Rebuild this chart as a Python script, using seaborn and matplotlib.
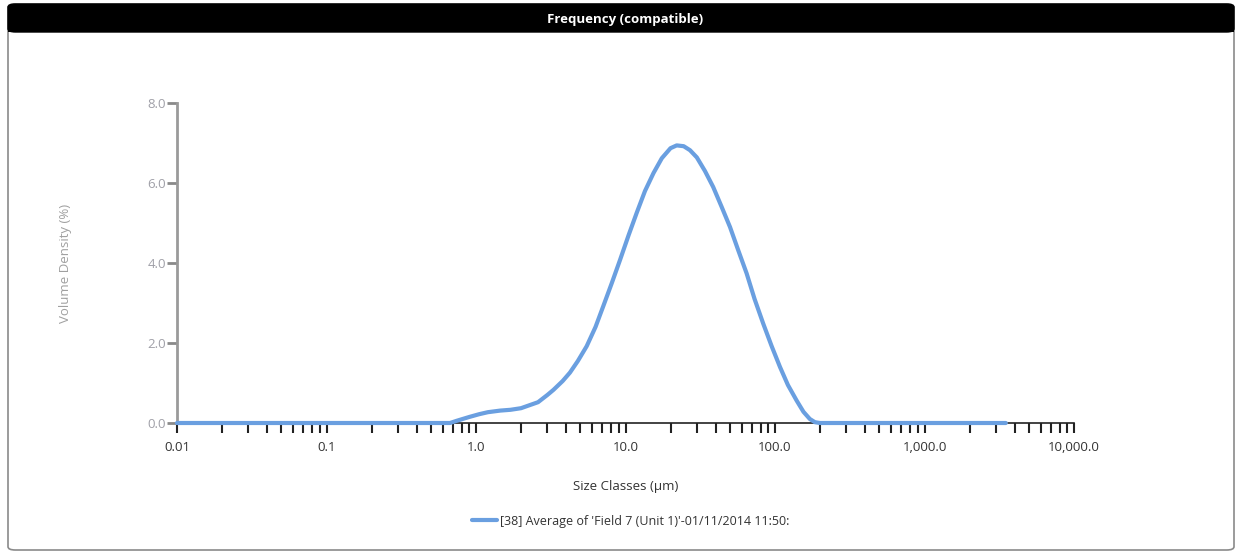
import numpy as np
import pandas as pd
import matplotlib
matplotlib.use("Agg")
import matplotlib.pyplot as plt
from matplotlib.patches import FancyBboxPatch, Rectangle
from matplotlib.ticker import FixedLocator, FixedFormatter, NullFormatter
import seaborn as sns

# ---- data ----
size_um = [0.01, 0.1, 0.67, 0.75, 0.9, 1.05, 1.2, 1.45, 1.7, 2.0, 2.3, 2.6, 3.0,
           3.3, 3.8, 4.25, 4.8, 5.5, 6.3, 7.1, 8.1, 9.2, 10.5, 11.9, 13.5, 15.4,
           17.5, 20.0, 22.0, 24.5, 27.0, 30.0, 34.0, 38.6, 44.0, 50.0, 57.0,
           64.6, 73.0, 83.5, 95.0, 108.0, 122.0, 139.6, 155.0, 171.0, 185.0,
           200.0, 500.0, 1000.0, 3500.0]
volume_density = [0.0, 0.0, 0.0, 0.06, 0.15, 0.22, 0.27, 0.31, 0.33, 0.37, 0.45,
                  0.52, 0.7, 0.83, 1.05, 1.26, 1.55, 1.92, 2.4, 2.92, 3.5, 4.08,
                  4.7, 5.26, 5.8, 6.25, 6.62, 6.87, 6.94, 6.92, 6.82, 6.64, 6.3,
                  5.9, 5.4, 4.9, 4.3, 3.74, 3.1, 2.48, 1.92, 1.4, 0.95, 0.56,
                  0.28, 0.1, 0.02, 0.0, 0.0, 0.0, 0.0]
series_label = "[38] Average of 'Field 7 (Unit 1)'-01/11/2014 11:50:"
x_tick_values = [0.01, 0.1, 1.0, 10.0, 100.0, 1000.0, 10000.0]
x_tick_labels = ["0.01", "0.1", "1.0", "10.0", "100.0", "1,000.0", "10,000.0"]
y_tick_values = [0.0, 2.0, 4.0, 6.0, 8.0]
y_tick_labels = ["0.0", "2.0", "4.0", "6.0", "8.0"]
title = "Frequency (compatible)"
x_label = "Size Classes (µm)"
y_label = "Volume Density (%)"

df = pd.DataFrame({"size": size_um, "density": volume_density, "series": series_label})

sns.set_style("white")
plt.rcParams["font.family"] = ["Open Sans", "DejaVu Sans"]

W, H = 1239, 554
fig = plt.figure(figsize=(W / 100, H / 100), dpi=100)

# outer frame and title bar
fig.patches.append(FancyBboxPatch((8 / W, 4 / H), 1226 / W, 546 / H,
                                  boxstyle="round,pad=0,rounding_size=0.006",
                                  transform=fig.transFigure, facecolor="none",
                                  edgecolor="#8a8a8a", linewidth=1.2, zorder=-5))
fig.patches.append(FancyBboxPatch((8 / W, 522 / H), 1226 / W, 28 / H,
                                  boxstyle="round,pad=0,rounding_size=0.006",
                                  transform=fig.transFigure, facecolor="black",
                                  edgecolor="black", linewidth=1, zorder=-4))
fig.patches.append(Rectangle((8 / W, 522 / H), 1226 / W, 10 / H,
                             transform=fig.transFigure, facecolor="black",
                             edgecolor="none", zorder=-4))
fig.text(625 / W, 1 - 19 / H, title, color="white", fontsize=9.5,
         fontweight="bold", ha="center", va="center")

ax = fig.add_axes([177 / W, 1 - 423 / H, (1074 - 177) / W, (423 - 103) / H])
ax.set_facecolor("none")
ax.set_zorder(2)

sns.lineplot(data=df, x="size", y="density", hue="series",
             palette=["#6a9fe0"], linewidth=3, ax=ax, legend=False,
             sort=False, estimator=None, zorder=5, clip_on=False)

ax.set_xscale("log")
ax.set_xlim(0.01, 10000)
ax.set_ylim(0, 8)
ax.xaxis.set_major_locator(FixedLocator(x_tick_values))
ax.xaxis.set_major_formatter(FixedFormatter(x_tick_labels))
minor = [m * 10.0 ** e for e in range(-2, 4) for m in range(2, 10)]
ax.xaxis.set_minor_locator(FixedLocator(minor))
ax.xaxis.set_minor_formatter(NullFormatter())
ax.yaxis.set_major_locator(FixedLocator(y_tick_values))
ax.yaxis.set_major_formatter(FixedFormatter(y_tick_labels))

for s in ["top", "right"]:
    ax.spines[s].set_visible(False)
ax.spines["left"].set_color("#9a9a9a")
ax.spines["left"].set_linewidth(2)
ax.spines["bottom"].set_color("#222222")
ax.spines["bottom"].set_linewidth(1.2)
ax.spines["bottom"].set_zorder(4)

ax.tick_params(axis="x", which="both", direction="out", length=7, width=1.5,
               color="#222222", labelsize=9.5, labelcolor="#333333", pad=6,
               bottom=True)
ax.tick_params(axis="y", which="major", direction="out", length=7, width=2,
               color="#8a8a8a", labelsize=9.5, labelcolor="#a0a0a8", pad=1,
               left=True)

ax.set_xlabel(x_label, fontsize=9.5, color="#333333")
ax.set_ylabel(y_label, fontsize=9.5, color="#a0a0a0")
ax.yaxis.set_label_coords((72 - 177) / (1074 - 177), 0.5)
ax.xaxis.set_label_coords(0.5, -(480 - 423) / (423 - 103))

# legend
handle = plt.Line2D([], [], color="#6a9fe0", linewidth=3)
fig.legend([handle], [series_label], loc="center", bbox_to_anchor=(631 / W, 1 - 521 / H),
           frameon=False, fontsize=9, handlelength=2.0, handletextpad=0.25,
           labelcolor="#333333")

fig.savefig("out.png", dpi=100)
